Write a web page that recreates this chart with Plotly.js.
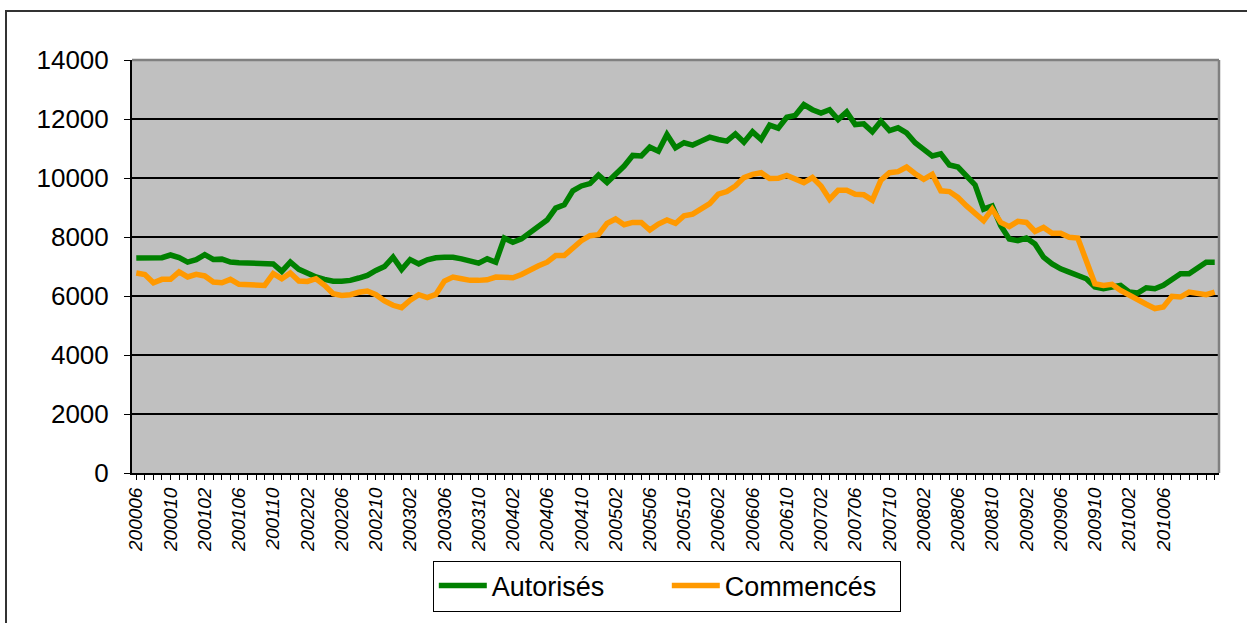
<!DOCTYPE html>
<html>
<head>
<meta charset="utf-8">
<script src="https://cdn.plot.ly/plotly-3.0.1.min.js"></script>
<style>
  html, body { margin: 0; padding: 0; background: #fff; overflow: hidden; }
  #chart { width: 1247px; height: 623px; }
  #frame { position: absolute; left: 5px; top: 10px; width: 1400px; height: 800px;
           border: 2px solid #333; pointer-events: none; box-sizing: border-box; }
</style>
</head>
<body>
<div id="chart"></div>
<div id="frame"></div>
<script>
const months = [
  "200006","200007","200008","200009","200010","200011","200012",
  "200101","200102","200103","200104","200105","200106","200107","200108","200109","200110","200111","200112",
  "200201","200202","200203","200204","200205","200206","200207","200208","200209","200210","200211","200212",
  "200301","200302","200303","200304","200305","200306","200307","200308","200309","200310","200311","200312",
  "200401","200402","200403","200404","200405","200406","200407","200408","200409","200410","200411","200412",
  "200501","200502","200503","200504","200505","200506","200507","200508","200509","200510","200511","200512",
  "200601","200602","200603","200604","200605","200606","200607","200608","200609","200610","200611","200612",
  "200701","200702","200703","200704","200705","200706","200707","200708","200709","200710","200711","200712",
  "200801","200802","200803","200804","200805","200806","200807","200808","200809","200810","200811","200812",
  "200901","200902","200903","200904","200905","200906","200907","200908","200909","200910","200911","200912",
  "201001","201002","201003","201004","201005","201006","201007","201008","201009","201010","201011","201012"
];

const tickLabels = [
  "200006","200010","200102","200106","200110","200202","200206","200210",
  "200302","200306","200310","200402","200406","200410","200502","200506",
  "200510","200602","200606","200610","200702","200706","200710","200802",
  "200806","200810","200902","200906","200910","201002","201006"
];

const autorises = [
  7290,7290,7300,7300,7390,7300,7150,7230,7400,7240,7250,7150,7130,7120,7110,7100,7085,6835,7150,6905,
  6760,6645,6565,6500,6500,6530,6610,6700,6865,7000,7315,6900,7235,7090,7225,7295,7315,7315,7260,7180,
  7115,7260,7145,7965,7820,7935,8160,8350,8575,8980,9090,9565,9730,9810,10100,9845,10125,10405,10765,10745,
  11045,10910,11475,11025,11195,11115,11250,11385,11305,11250,11495,11215,11565,11305,11790,11690,12060,12125,12485,12315,
  12205,12315,11980,12240,11810,11835,11565,11925,11610,11700,11530,11195,10970,10745,10820,10440,10370,10070,9765,8945,
  9055,8385,7935,7875,7965,7765,7315,7090,6920,6810,6695,6585,6305,6245,6305,6360,6135,6100,6280,6245,
  6360,6550,6755,6755,6955,7145,7145
];

const commences = [
  6780,6725,6450,6565,6565,6815,6645,6735,6680,6475,6450,6565,6395,6385,6360,6360,6755,6585,6780,6510,
  6495,6585,6360,6080,6020,6045,6125,6170,6045,5830,5685,5605,5855,6045,5945,6055,6505,6640,6585,6530,
  6530,6550,6640,6640,6620,6730,6890,7025,7145,7370,7370,7630,7875,8045,8080,8460,8610,8415,8495,8495,
  8235,8440,8575,8460,8720,8775,8980,9135,9450,9540,9730,10015,10125,10180,9980,9990,10090,9955,9845,10015,
  9730,9280,9585,9585,9450,9430,9250,9925,10180,10215,10370,10145,9955,10125,9565,9540,9340,9055,8775,8550,
  8945,8495,8350,8530,8495,8190,8325,8125,8125,7990,7965,7190,6415,6360,6395,6190,6020,5875,5720,5575,
  5630,5990,5965,6135,6080,6045,6135
];

const seriesNames = ["Autorisés", "Commencés"];
const seriesColors = ["#008000", "#FF9900"];

const traces = [autorises, commences].map((vals, k) => ({
  type: "scatter",
  mode: "lines",
  name: seriesNames[k],
  x: months,
  y: vals,
  line: { color: seriesColors[k], width: 5.5, shape: "linear" },
  hoverinfo: "skip"
}));

const layout = {
  width: 1247,
  height: 623,
  margin: { l: 132, r: 28, t: 60, b: 147 },
  paper_bgcolor: "#ffffff",
  plot_bgcolor: "#C0C0C0",
  font: { family: "Liberation Sans, Arial, sans-serif", color: "#000" },
  showlegend: true,
  legend: {
    orientation: "h",
    x: 0.492, xanchor: "center",
    y: -0.212, yanchor: "top",
    bgcolor: "#ffffff",
    bordercolor: "#000",
    borderwidth: 1,
    font: { size: 27, color: "#000" },
    itemwidth: 48,
    entrywidth: 170,
    traceorder: "normal"
  },
  xaxis: {
    type: "category",
    categoryorder: "array",
    categoryarray: months,
    range: [-0.5, months.length - 0.5],
    tickmode: "array",
    tickvals: months,
    ticktext: months.map(m => tickLabels.includes(m) ? m : ""),
    tickangle: -90,
    tickfont: { size: 19, color: "#000", style: "italic" },
    ticks: "outside",
    ticklen: 5,
    tickcolor: "#000",
    tickwidth: 1,
    showgrid: false,
    showline: true,
    linecolor: "#000",
    linewidth: 2,
    zeroline: false,
    fixedrange: true
  },
  yaxis: {
    range: [0, 14000],
    tickmode: "linear",
    tick0: 0,
    dtick: 2000,
    tickformat: "d",
    tickfont: { size: 26, color: "#000" },
    ticks: "outside",
    ticklen: 6,
    tickcolor: "#000",
    ticklabelstandoff: 10,
    showgrid: true,
    gridcolor: "#000",
    gridwidth: 1.3,
    showline: true,
    linecolor: "#000",
    linewidth: 2,
    zeroline: false,
    fixedrange: true
  },
  shapes: [
    { type: "line", xref: "paper", yref: "paper", x0: 0, x1: 1, y0: 1, y1: 1,
      line: { color: "#808080", width: 2.5 }, layer: "above" },
    { type: "line", xref: "paper", yref: "paper", x0: 1, x1: 1, y0: 0, y1: 1,
      line: { color: "#808080", width: 2.5 }, layer: "above" }
  ]
};

Plotly.newPlot("chart", traces, layout, { displayModeBar: false, staticPlot: true });
</script>
</body>
</html>
